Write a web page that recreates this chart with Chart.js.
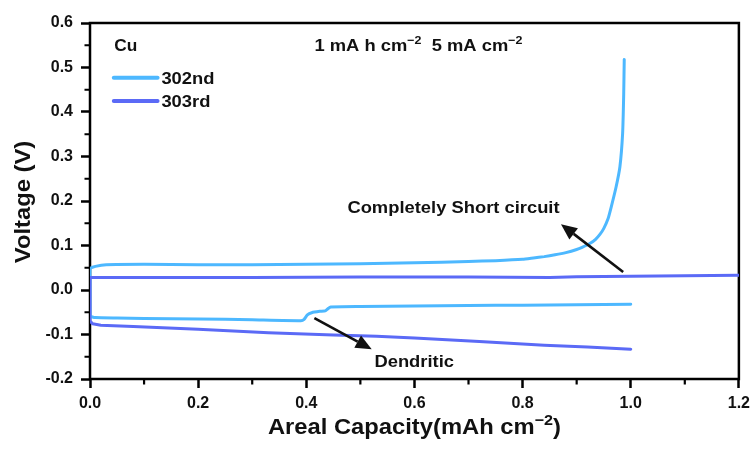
<!DOCTYPE html>
<html>
<head>
<meta charset="utf-8">
<script src="https://cdn.jsdelivr.net/npm/chart.js@4"></script>
<style>
  html, body { margin: 0; padding: 0; background: #fff; }
</style>
</head>
<body>
<canvas id="voltageChart" width="756" height="455"></canvas>
<script>
// 302nd cycle: plating branch (below 0 V) and stripping branch (above 0 V)
const cap302Plate = [0, 0.01, 0.05, 0.1, 0.2, 0.3, 0.39, 0.396, 0.402, 0.41, 0.425, 0.435, 0.44, 0.445, 0.5, 0.6, 0.7, 0.8, 0.9, 1.0];
const volt302Plate = [-0.058, -0.062, -0.063, -0.064, -0.065, -0.067, -0.069, -0.066, -0.056, -0.051, -0.048, -0.047, -0.042, -0.038, -0.037, -0.036, -0.035, -0.034, -0.033, -0.032];
const cap302Strip = [0, 0.01, 0.03, 0.1, 0.2, 0.3, 0.4, 0.5, 0.6, 0.7, 0.75, 0.8, 0.82, 0.84, 0.86, 0.88, 0.9, 0.91, 0.925, 0.935, 0.943, 0.95, 0.958, 0.964, 0.973, 0.98, 0.985, 0.987, 0.988];
const volt302Strip = [0.048, 0.053, 0.057, 0.058, 0.057, 0.057, 0.058, 0.059, 0.061, 0.064, 0.066, 0.069, 0.072, 0.075, 0.079, 0.084, 0.091, 0.096, 0.105, 0.114, 0.125, 0.138, 0.16, 0.187, 0.232, 0.277, 0.352, 0.44, 0.518];

// 303rd cycle
const cap303Plate = [0, 0.005, 0.02, 0.08, 0.2, 0.33, 0.45, 0.53, 0.6, 0.72, 0.84, 0.92, 1.0];
const volt303Plate = [-0.07, -0.076, -0.079, -0.082, -0.088, -0.096, -0.101, -0.104, -0.108, -0.116, -0.124, -0.128, -0.133];
const cap303Strip = [0, 0.1, 0.3, 0.5, 0.7, 0.85, 0.9, 1.0, 1.1, 1.2];
const volt303Strip = [0.028, 0.028, 0.028, 0.029, 0.029, 0.028, 0.030, 0.031, 0.032, 0.033];

const xTicks = [0, 0.2, 0.4, 0.6, 0.8, 1.0, 1.2];
const yTicks = [-0.2, -0.1, 0, 0.1, 0.2, 0.3, 0.4, 0.5, 0.6];
const xMinor = [0.1, 0.3, 0.5, 0.7, 0.9, 1.1];
const yMinor = [-0.15, -0.05, 0.05, 0.15, 0.25, 0.35, 0.45, 0.55];

const LIGHT = '#4db8ff';
const DARK = '#5b6af6';
const INK = '#111';
const FONT = 'Arial, "Liberation Sans", sans-serif';

// plating branch walked back to x=0, then the stripping branch forward
function loop(capA, voltA, capB, voltB) {
    const pts = [];
    for (let i = capA.length - 1; i >= 0; i--) pts.push({ x: capA[i], y: voltA[i] });
    capB.forEach((c, i) => pts.push({ x: c, y: voltB[i] }));
    return pts;
}

function font(size) {
    return 'bold ' + size + 'px ' + FONT;
}

// text made of normal and superscript pieces, slightly widened
function richText(ctx, parts, x, y, size, align) {
    const sx = 1.08;
    ctx.save();
    ctx.translate(x, y);
    ctx.scale(sx, 1);
    ctx.fillStyle = INK;
    ctx.textAlign = 'left';
    ctx.textBaseline = 'alphabetic';
    let w = 0;
    parts.forEach(([t, sup]) => {
        ctx.font = font(sup ? size * 0.68 : size);
        w += ctx.measureText(t).width;
    });
    let cx = align === 'center' ? -w / 2 : 0;
    parts.forEach(([t, sup]) => {
        ctx.font = font(sup ? size * 0.68 : size);
        ctx.fillText(t, cx, sup ? -size * 0.42 : 0);
        cx += ctx.measureText(t).width;
    });
    ctx.restore();
}

function arrow(ctx, x1, y1, x2, y2) {
    const ang = Math.atan2(y2 - y1, x2 - x1);
    const len = 16, half = 7;
    const bx = x2 - len * Math.cos(ang), by = y2 - len * Math.sin(ang);
    ctx.save();
    ctx.strokeStyle = INK;
    ctx.fillStyle = INK;
    ctx.lineWidth = 2.6;
    ctx.beginPath();
    ctx.moveTo(x1, y1);
    ctx.lineTo(bx, by);
    ctx.stroke();
    ctx.beginPath();
    ctx.moveTo(x2, y2);
    ctx.lineTo(bx + half * Math.sin(ang), by - half * Math.cos(ang));
    ctx.lineTo(bx - half * Math.sin(ang), by + half * Math.cos(ang));
    ctx.closePath();
    ctx.fill();
    ctx.restore();
}

const decorations = {
    id: 'decorations',
    beforeDatasetsDraw(chart) {
        const { ctx, chartArea: a, scales: { x, y } } = chart;
        ctx.save();
        ctx.strokeStyle = '#000';
        ctx.lineWidth = 2.5;
        ctx.strokeRect(a.left, a.top, a.right - a.left, a.bottom - a.top);
        ctx.lineWidth = 2.2;
        ctx.beginPath();
        yMinor.forEach(v => {
            const py = y.getPixelForValue(v);
            ctx.moveTo(a.left - 5.5, py);
            ctx.lineTo(a.left, py);
        });
        xMinor.forEach(v => {
            const px = x.getPixelForValue(v);
            ctx.moveTo(px, a.bottom);
            ctx.lineTo(px, a.bottom + 5.5);
        });
        ctx.stroke();
        ctx.restore();
    },
    afterDatasetsDraw(chart) {
        const { ctx, chartArea: a, scales: { x, y } } = chart;
        const X = v => x.getPixelForValue(v);
        const Y = v => y.getPixelForValue(v);

        richText(ctx, [['Cu', false]], X(0.045), Y(0.536), 16, 'left');
        richText(ctx, [['1 mA h cm', false], ['\u22122', true], ['  5 mA cm', false], ['\u22122', true]], X(0.415), Y(0.537), 17, 'left');

        // legend
        [[LIGHT, '302nd', 0.477], [DARK, '303rd', 0.425]].forEach(([c, label, v]) => {
            ctx.save();
            ctx.strokeStyle = c;
            ctx.lineWidth = 4;
            ctx.lineCap = 'round';
            ctx.beginPath();
            ctx.moveTo(X(0.044), Y(v));
            ctx.lineTo(X(0.125), Y(v));
            ctx.stroke();
            ctx.restore();
            richText(ctx, [[label, false]], X(0.132), Y(v) + 6, 17, 'left');
        });

        richText(ctx, [['Completely Short circuit', false]], X(0.476), Y(0.172), 17, 'left');
        arrow(ctx, X(0.986), Y(0.0405), X(0.871), Y(0.148));
        richText(ctx, [['Dendritic', false]], X(0.526), Y(-0.172), 17, 'left');
        arrow(ctx, X(0.415), Y(-0.063), X(0.521), Y(-0.133));

        // axis titles
        richText(ctx, [['Areal Capacity(mAh cm', false], ['\u22122', true], [')', false]], (a.left + a.right) / 2, 434, 22, 'center');
        ctx.save();
        ctx.translate(30, (a.top + a.bottom) / 2 + 1);
        ctx.rotate(-Math.PI / 2);
        richText(ctx, [['Voltage (V)', false]], 0, 0, 22, 'center');
        ctx.restore();
    }
};

const tickFont = { family: FONT, size: 16, weight: 'bold' };

new Chart(document.getElementById('voltageChart'), {
    type: 'scatter',
    data: {
        datasets: [
            {
                label: '302nd',
                data: loop(cap302Plate, volt302Plate, cap302Strip, volt302Strip),
                borderColor: LIGHT,
                tension: 0.15,
                order: 2
            },
            {
                label: '303rd',
                data: loop(cap303Plate, volt303Plate, cap303Strip, volt303Strip),
                borderColor: DARK,
                tension: 0,
                order: 1
            }
        ]
    },
    options: {
        responsive: false,
        animation: false,
        devicePixelRatio: 1,
        layout: { padding: { top: 23, right: 16, left: 0, bottom: 0 } },
        elements: {
            line: { borderWidth: 3, fill: false, borderCapStyle: 'round', borderJoinStyle: 'round' },
            point: { radius: 0, hoverRadius: 0 }
        },
        datasets: { scatter: { showLine: true } },
        plugins: {
            legend: { display: false },
            tooltip: { enabled: false }
        },
        scales: {
            x: {
                type: 'linear',
                min: 0,
                max: 1.2,
                afterBuildTicks: s => { s.ticks = xTicks.map(v => ({ value: v })); },
                afterFit: s => { s.height = 76; },
                ticks: {
                    font: tickFont,
                    color: INK,
                    padding: 6,
                    maxRotation: 0,
                    autoSkip: false,
                    callback: v => v.toFixed(1)
                },
                grid: { drawOnChartArea: false, drawTicks: true, tickLength: 9, tickWidth: 2.5, tickColor: '#000' },
                border: { display: false }
            },
            y: {
                type: 'linear',
                min: -0.2,
                max: 0.6,
                afterBuildTicks: s => { s.ticks = yTicks.map(v => ({ value: v })); },
                afterFit: s => { s.width = 90; },
                ticks: {
                    font: tickFont,
                    color: INK,
                    padding: 8,
                    autoSkip: false,
                    callback: v => v.toFixed(1)
                },
                grid: { drawOnChartArea: false, drawTicks: true, tickLength: 9, tickWidth: 2.5, tickColor: '#000' },
                border: { display: false }
            }
        }
    },
    plugins: [decorations]
});
</script>
</body>
</html>
